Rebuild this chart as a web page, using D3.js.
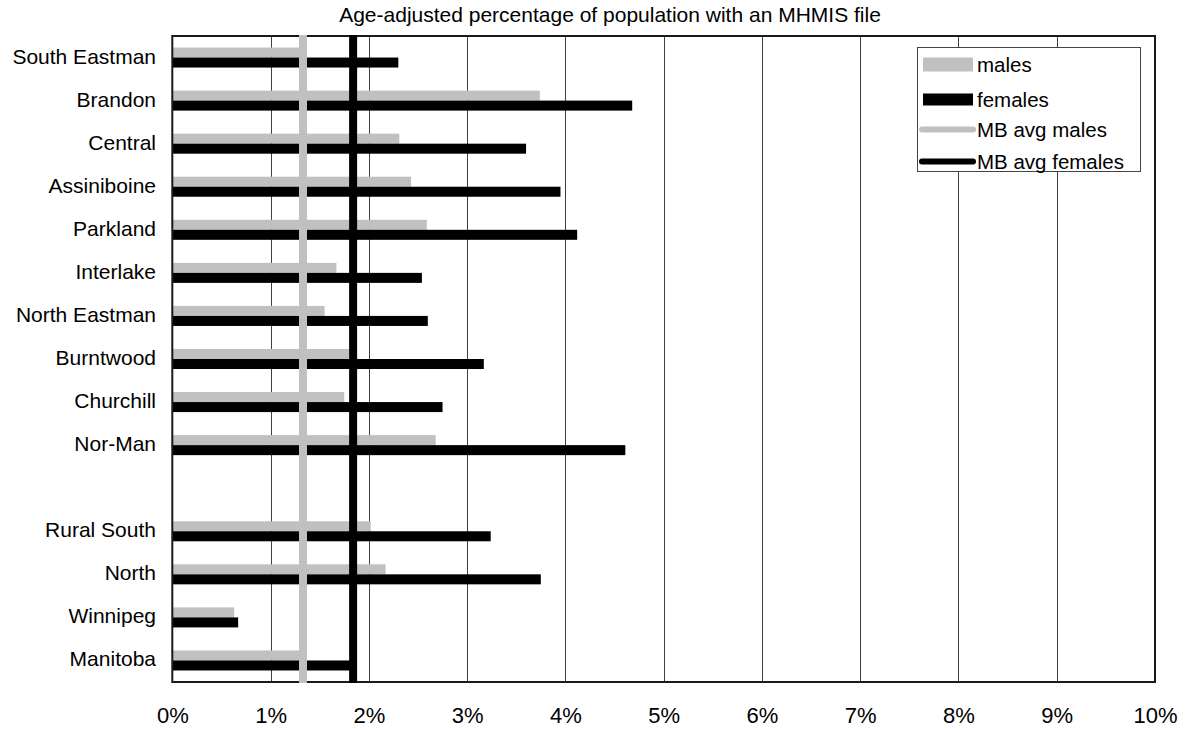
<!DOCTYPE html>
<html>
<head>
<meta charset="utf-8">
<script src="https://cdn.jsdelivr.net/npm/d3@7"></script>
<style>
  html, body { margin: 0; padding: 0; background: #fff; }
  svg { display: block; font-family: "Liberation Sans", Arial, sans-serif; }
</style>
</head>
<body>
<svg id="chart" width="1191" height="729"></svg>
<script>
const title = "Age-adjusted percentage of population with an MHMIS file";
const categories = ["South Eastman", "Brandon", "Central", "Assiniboine", "Parkland", "Interlake",
  "North Eastman", "Burntwood", "Churchill", "Nor-Man", " ", "Rural South", "North", "Winnipeg", "Manitoba"];
const males =   [1.37, 3.74, 2.31, 2.43, 2.59, 1.67, 1.55, 1.80, 1.75, 2.68, null, 2.02, 2.17, 0.63, 1.33];
const females = [2.30, 4.68, 3.60, 3.95, 4.12, 2.54, 2.60, 3.17, 2.75, 4.61, null, 3.24, 3.75, 0.67, 1.84];
const avgMales = 1.33;
const avgFemales = 1.84;
const xTicks = [0, 1, 2, 3, 4, 5, 6, 7, 8, 9, 10];
const tickLabels = ["0%", "1%", "2%", "3%", "4%", "5%", "6%", "7%", "8%", "9%", "10%"];
const legendLabels = ["males", "females", "MB avg males", "MB avg females"];

const GRAY = "#c0c0c0", BLACK = "#000000";
const pLeft = 172.3, pRight = 1155, pTop = 36, pBottom = 682;

const svg = d3.select("#chart");
const x = d3.scaleLinear().domain([0, 10]).range([pLeft, pRight]);
const y = d3.scaleBand().domain(categories).range([pTop, pBottom]).paddingInner(0.535).paddingOuter(0.2675);
const ySub = d3.scaleBand().domain(["males", "females"]).range([0, y.bandwidth()]);

// title
svg.append("text").attr("x", 610).attr("y", 21.5).attr("text-anchor", "middle")
  .attr("font-size", 21).attr("fill", "#000").text(title);

// gridlines
svg.append("g").selectAll("line").data(xTicks.slice(1, -1)).join("line")
  .attr("x1", d => Math.round(x(d)) + 0.5).attr("x2", d => Math.round(x(d)) + 0.5)
  .attr("y1", pTop).attr("y2", pBottom)
  .attr("stroke", "#404040").attr("stroke-width", 1);

// bars
const rows = categories.map((c, i) => ({ c, m: males[i], f: females[i] })).filter(d => d.m != null);
svg.append("g").selectAll("rect").data(rows).join("rect")
  .attr("x", x(0)).attr("y", d => y(d.c) + ySub("males"))
  .attr("width", d => x(d.m) - x(0)).attr("height", ySub.bandwidth())
  .attr("fill", GRAY);
svg.append("g").selectAll("rect").data(rows).join("rect")
  .attr("x", x(0)).attr("y", d => y(d.c) + ySub("females"))
  .attr("width", d => x(d.f) - x(0)).attr("height", ySub.bandwidth())
  .attr("fill", BLACK);

// frame
svg.append("rect").attr("x", pLeft).attr("y", pTop).attr("width", pRight - pLeft).attr("height", pBottom - pTop)
  .attr("fill", "none").attr("stroke", "#1a1a1a").attr("stroke-width", 2);

// average lines
svg.append("line").attr("x1", x(avgMales)).attr("x2", x(avgMales)).attr("y1", pTop - 1).attr("y2", pBottom + 1)
  .attr("stroke", GRAY).attr("stroke-width", 8);
svg.append("line").attr("x1", x(avgFemales)).attr("x2", x(avgFemales)).attr("y1", pTop - 1).attr("y2", pBottom + 1)
  .attr("stroke", BLACK).attr("stroke-width", 8);

// category labels
svg.append("g").selectAll("text").data(categories).join("text")
  .attr("x", 156).attr("y", d => y(d) + y.bandwidth() / 2 + 6)
  .attr("text-anchor", "end").attr("font-size", 21).attr("fill", "#000").text(d => d);

// x axis labels
const xAxis = d3.axisBottom(x).tickValues(xTicks).tickFormat((d, i) => tickLabels[i]).tickSize(0).tickPadding(25);
const gx = svg.append("g").attr("transform", `translate(0,${pBottom})`).call(xAxis);
gx.select(".domain").remove();
gx.selectAll("text").attr("font-size", 22).attr("font-family", "Liberation Sans, Arial, sans-serif").attr("fill", "#000");

// legend
const lg = svg.append("g");
lg.append("rect").attr("x", 917.5).attr("y", 47.5).attr("width", 223).attr("height", 124)
  .attr("fill", "#fff").attr("stroke", "#444").attr("stroke-width", 1);
const rowY = [64.5, 99.5, 129.5, 161.5];
lg.append("rect").attr("x", 923).attr("y", rowY[0] - 7).attr("width", 50).attr("height", 14).attr("fill", GRAY);
lg.append("rect").attr("x", 923).attr("y", rowY[1] - 6).attr("width", 50).attr("height", 12).attr("fill", BLACK);
lg.append("line").attr("x1", 922).attr("x2", 973).attr("y1", rowY[2]).attr("y2", rowY[2])
  .attr("stroke", GRAY).attr("stroke-width", 6).attr("stroke-linecap", "round");
lg.append("line").attr("x1", 922).attr("x2", 973).attr("y1", rowY[3]).attr("y2", rowY[3])
  .attr("stroke", BLACK).attr("stroke-width", 6).attr("stroke-linecap", "round");
lg.selectAll("text.lab").data(legendLabels).join("text").attr("class", "lab")
  .attr("x", 977).attr("y", (d, i) => rowY[i] + 7.5)
  .attr("font-size", 20.5).attr("fill", "#000").text(d => d);
</script>
</body>
</html>
